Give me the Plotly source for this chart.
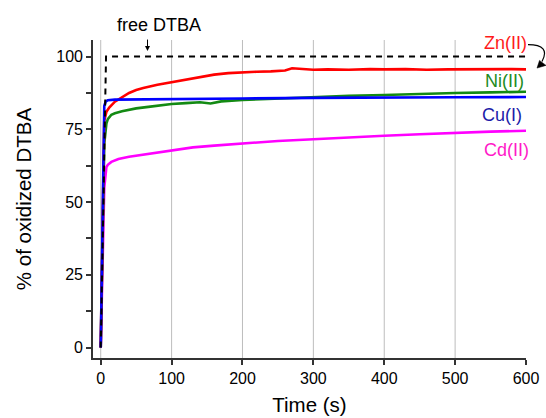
import plotly.graph_objects as go

# Oxidation kinetics of DTBA (% oxidized vs time) alone and with metal ions
t_free = [0, 7.5, 600]
y_free = [0, 100, 100]

t_zn = [0, 5, 8, 12, 20, 30, 40, 50, 60, 80, 100, 120, 140, 160, 180, 200, 220, 240,
        260, 270, 280, 300, 320, 350, 380, 400, 430, 460, 490, 520, 550, 580, 600]
y_zn = [0, 78, 81, 82.5, 84.5, 86, 87.5, 88.5, 89.2, 90.3, 91.2, 92.2, 93, 93.8, 94.3,
        94.6, 94.8, 94.9, 95.2, 96.0, 95.8, 95.5, 95.6, 95.5, 95.7, 95.6, 95.7, 95.5,
        95.6, 95.7, 95.6, 95.7, 95.6]

t_ni = [0, 5, 8, 10, 15, 20, 30, 50, 70, 100, 120, 140, 155, 170, 200, 250, 300, 350,
        400, 450, 500, 550, 600]
y_ni = [0, 70, 77, 78.5, 80, 80.5, 81.2, 82.2, 82.8, 83.7, 84, 84.3, 83.9, 84.6, 85.1,
        85.6, 86.1, 86.5, 86.8, 87.2, 87.5, 87.7, 87.9]

t_cu = [0, 5, 7, 10, 20, 50, 100, 200, 300, 400, 500, 600]
y_cu = [0, 83, 84.5, 85, 85.2, 85.3, 85.4, 85.6, 85.8, 86.0, 86.0, 86.1]

t_cd = [0, 5, 8, 10, 15, 25, 40, 60, 80, 100, 130, 160, 200, 250, 300, 350, 400, 450,
        500, 550, 600]
y_cd = [0, 55, 62, 62.8, 63.8, 64.8, 65.6, 66.3, 67, 67.8, 68.8, 69.4, 70.2, 71, 71.6,
        72.3, 72.8, 73.3, 73.8, 74.2, 74.5]

x_ticks = [0, 100, 200, 300, 400, 500, 600]
y_ticks = [0, 25, 50, 75, 100]
grid_x = [0, 100, 200, 300, 400, 500]

X_RANGE = [-10.9, 600]
Y_RANGE = [-3.6, 105.7]

FONT = "Liberation Sans, Arial, sans-serif"
LW = 2.6


def ypaper(v):
    return (v - Y_RANGE[0]) / (Y_RANGE[1] - Y_RANGE[0])


def xpaper(v):
    return (v - X_RANGE[0]) / (X_RANGE[1] - X_RANGE[0])


fig = go.Figure()

fig.add_trace(go.Scatter(x=t_cd, y=y_cd, mode="lines", line=dict(color="#ff00ff", width=LW)))
fig.add_trace(go.Scatter(x=t_ni, y=y_ni, mode="lines", line=dict(color="#138a13", width=LW)))
fig.add_trace(go.Scatter(x=t_zn, y=y_zn, mode="lines", line=dict(color="#ff0000", width=LW)))
fig.add_trace(go.Scatter(x=t_cu, y=y_cu, mode="lines", line=dict(color="#0000ff", width=LW)))
fig.add_trace(go.Scatter(x=t_free, y=y_free, mode="lines",
                         line=dict(color="#000000", width=2, dash="6px,5px")))

# vertical grid lines
for gx in grid_x:
    fig.add_shape(type="line", xref="x", yref="paper", x0=gx, x1=gx, y0=0, y1=1,
                  line=dict(color="#bdbdbd", width=1), layer="below")

# curved arrow beside the Zn(II) label (pixel offsets from the end of the 100 % line)
ax_anchor = xpaper(600)
ay_anchor = ypaper(100)
fig.add_shape(type="path", xref="paper", yref="paper", xsizemode="pixel", ysizemode="pixel",
              xanchor=ax_anchor, yanchor=ay_anchor,
              path="M 2,12 Q 25,12 16,-5",
              line=dict(color="#000000", width=1.2))
fig.add_shape(type="path", xref="paper", yref="paper", xsizemode="pixel", ysizemode="pixel",
              xanchor=ax_anchor, yanchor=ay_anchor,
              path="M 11,-11.5 L 13.5,-3.8 L 20,-8.8 Z",
              line=dict(color="#000000", width=0.5), fillcolor="#000000")

labels = [
    ("Zn(II)", 571, 104.6, "#ff1a1a"),
    ("Ni(II)", 569.5, 91.7, "#228b22"),
    ("Cu(I)", 566, 79.9, "#1c1ca8"),
    ("Cd(II)", 573, 67.9, "#ff19c8"),
]
for txt, lx, ly, col in labels:
    fig.add_annotation(x=xpaper(lx), y=ypaper(ly), xref="paper", yref="paper",
                       xanchor="center", yanchor="middle",
                       text=txt, showarrow=False,
                       font=dict(family=FONT, size=18, color=col))

fig.add_annotation(x=xpaper(82.3), y=ypaper(110.9), xref="paper", yref="paper",
                   xanchor="center", yanchor="middle",
                   text="free DTBA", showarrow=False,
                   font=dict(family=FONT, size=18, color="#000000"))
fig.add_annotation(x=66, y=101.9, text="", showarrow=True, ax=0, ay=-13,
                   arrowhead=2, arrowsize=1, arrowwidth=1, arrowcolor="#000000")

fig.update_layout(
    width=546, height=418,
    margin=dict(l=93, r=20, t=40, b=60),
    plot_bgcolor="white", paper_bgcolor="white",
    showlegend=False,
    font=dict(family=FONT, size=16, color="#000000"),
    xaxis=dict(range=X_RANGE, tickvals=x_ticks, showgrid=False, zeroline=False,
               automargin=False,
               showline=True, linecolor="#333333", linewidth=1.6,
               ticks="outside", ticklen=5, tickcolor="#333333", tickwidth=1.5,
               tickfont=dict(family=FONT, size=16, color="#000000"),
               title=dict(text="Time (s)", font=dict(family=FONT, size=20.5), standoff=12)),
    yaxis=dict(range=Y_RANGE, tickvals=y_ticks, showgrid=False, zeroline=False,
               automargin=False,
               showline=True, linecolor="#333333", linewidth=1.6,
               ticks="outside", ticklen=5, tickcolor="#333333", tickwidth=1.5,
               minor=dict(dtick=12.5, tick0=0, ticks="outside", ticklen=5,
                          tickcolor="#333333", tickwidth=1.5, showgrid=False),
               tickfont=dict(family=FONT, size=16, color="#000000"),
               title=dict(text="% of oxidized DTBA", font=dict(family=FONT, size=20.5),
                          standoff=19)),
)

fig.write_html("out.html")
